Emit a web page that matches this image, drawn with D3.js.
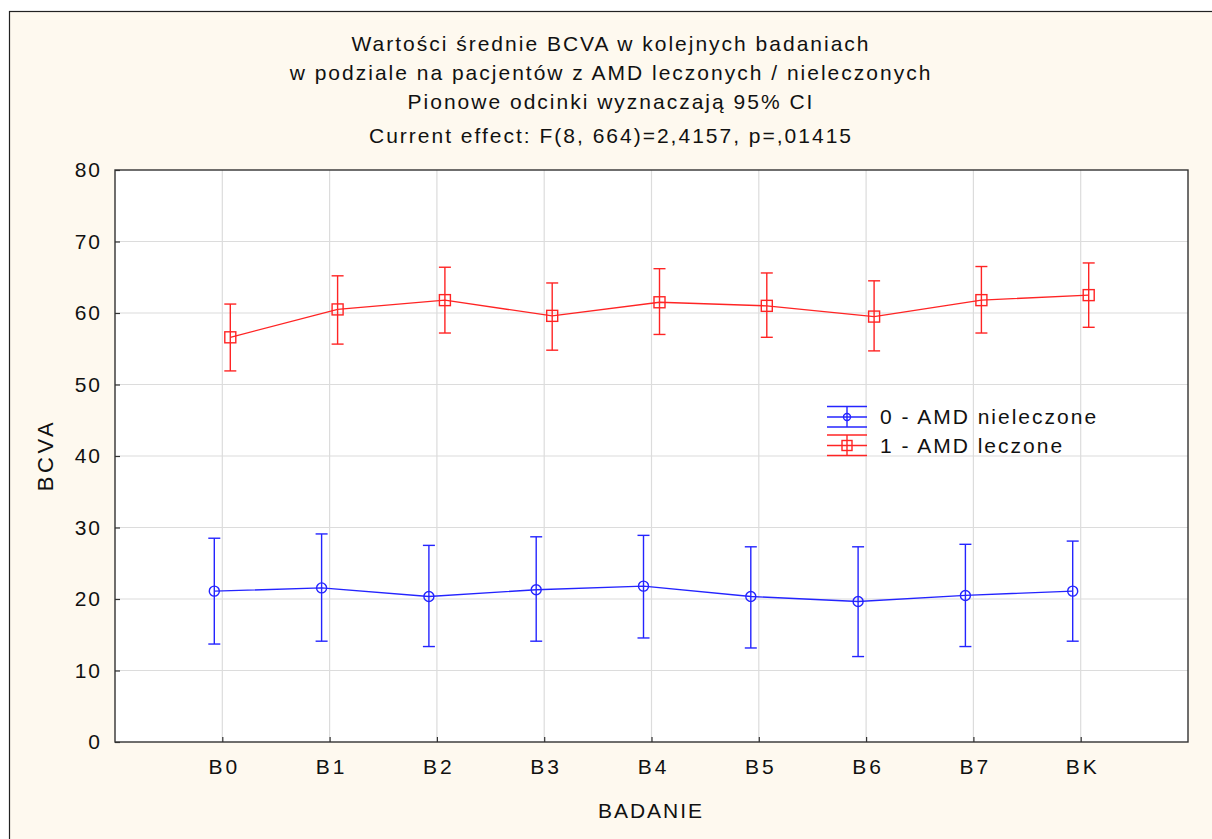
<!DOCTYPE html>
<html>
<head>
<meta charset="utf-8">
<script src="https://cdn.jsdelivr.net/npm/d3@7"></script>
<style>
  body { margin: 0; background: #ffffff; }
  svg { display: block; font-family: "Liberation Sans", Arial, sans-serif; }
</style>
</head>
<body>
<div id="chart"></div>
<script>
// data
const categories = ['B0', 'B1', 'B2', 'B3', 'B4', 'B5', 'B6', 'B7', 'BK'];

const untreatedMean  = [21.1, 21.55, 20.35, 21.3, 21.8, 20.35, 19.65, 20.5, 21.1];
const untreatedLower = [13.7, 14.1, 13.35, 14.1, 14.55, 13.15, 11.95, 13.35, 14.1];
const untreatedUpper = [28.5, 29.1, 27.5, 28.7, 28.9, 27.3, 27.3, 27.65, 28.1];

const treatedMean  = [56.6, 60.5, 61.8, 59.6, 61.5, 61.0, 59.5, 61.8, 62.5];
const treatedLower = [51.9, 55.65, 57.2, 54.8, 57.0, 56.6, 54.7, 57.2, 58.0];
const treatedUpper = [61.25, 65.2, 66.4, 64.2, 66.2, 65.6, 64.5, 66.5, 67.0];

const yTicks = [0, 10, 20, 30, 40, 50, 60, 70, 80];

const seriesNames = ['0 - AMD nieleczone', '1 - AMD leczone'];

const titleLines = [
  'Wartości średnie BCVA w kolejnych badaniach',
  'w podziale na pacjentów z AMD leczonych / nieleczonych',
  'Pionowe odcinki wyznaczają 95% CI',
  'Current effect: F(8, 664)=2,4157, p=,01415'
];

const W = 1212, H = 839;
const plot = { left: 115, top: 170, right: 1188, bottom: 742 };
const blue = '#2424ff', red = '#ff2424';
const fontSize = 21, spacing = 2;

const svg = d3.select('#chart').append('svg')
  .attr('width', W)
  .attr('height', H);

// page background + outer frame
svg.append('rect')
  .attr('x', 9.5).attr('y', 11.5)
  .attr('width', W).attr('height', H)
  .attr('fill', '#fef9ef')
  .attr('stroke', '#222').attr('stroke-width', 1.2);

// plot area
svg.append('rect')
  .attr('x', plot.left).attr('y', plot.top)
  .attr('width', plot.right - plot.left).attr('height', plot.bottom - plot.top)
  .attr('fill', '#ffffff');

// scales
const x = d3.scaleLinear().domain([0, categories.length + 1]).range([plot.left, plot.right]);
const y = d3.scaleLinear().domain([0, 80]).range([plot.bottom, plot.top]);

// grid
svg.append('g').selectAll('line.hg')
  .data(yTicks.slice(1, -1))
  .join('line')
  .attr('x1', plot.left).attr('x2', plot.right)
  .attr('y1', d => y(d)).attr('y2', d => y(d))
  .attr('stroke', '#dcdcdc').attr('stroke-width', 1.2);

svg.append('g').selectAll('line.vg')
  .data(categories)
  .join('line')
  .attr('x1', (d, i) => x(i + 1)).attr('x2', (d, i) => x(i + 1))
  .attr('y1', plot.top).attr('y2', plot.bottom)
  .attr('stroke', '#dcdcdc').attr('stroke-width', 1.2);

// axes
let yAxis = svg.append('g')
  .attr('transform', `translate(${plot.left},0)`)
  .call(d3.axisLeft(y).tickValues(yTicks).tickSize(-5).tickPadding(13));
yAxis.select('.domain').remove();
yAxis.selectAll('line').attr('stroke', '#333').attr('stroke-width', 1.2);
yAxis.selectAll('text')
  .attr('font-size', fontSize).attr('fill', '#111').attr('letter-spacing', spacing)
  .attr('font-family', '"Liberation Sans", Arial, sans-serif');

let xAxis = svg.append('g')
  .attr('transform', `translate(0,${plot.bottom})`)
  .call(d3.axisBottom(x).tickValues(d3.range(1, categories.length + 1))
    .tickFormat(i => categories[i - 1]).tickSize(-5).tickPadding(17));
xAxis.select('.domain').remove();
xAxis.selectAll('line').attr('stroke', '#333').attr('stroke-width', 1.2);
xAxis.selectAll('text')
  .attr('font-size', fontSize).attr('fill', '#111').attr('letter-spacing', 3)
  .attr('dx', 1.5)
  .attr('font-family', '"Liberation Sans", Arial, sans-serif');

// plot border
svg.append('rect')
  .attr('x', plot.left).attr('y', plot.top)
  .attr('width', plot.right - plot.left).attr('height', plot.bottom - plot.top)
  .attr('fill', 'none').attr('stroke', '#333').attr('stroke-width', 1.4);

// series
const series = [
  { name: seriesNames[0], mean: untreatedMean, lo: untreatedLower, hi: untreatedUpper, color: blue, dx: -8, marker: 'circle' },
  { name: seriesNames[1], mean: treatedMean, lo: treatedLower, hi: treatedUpper, color: red, dx: 8, marker: 'square' }
];

const capW = 6;

series.forEach(s => {
  let g = svg.append('g');
  let px = i => x(i + 1) + s.dx;

  let line = d3.line().x((d, i) => px(i)).y(d => y(d));
  g.append('path')
    .attr('d', line(s.mean))
    .attr('fill', 'none').attr('stroke', s.color).attr('stroke-width', 1.4);

  // error bars
  let eb = g.selectAll('g.eb').data(s.mean).join('g');
  eb.append('line')
    .attr('x1', (d, i) => px(i)).attr('x2', (d, i) => px(i))
    .attr('y1', (d, i) => y(s.lo[i])).attr('y2', (d, i) => y(s.hi[i]))
    .attr('stroke', s.color).attr('stroke-width', 1.4);
  eb.append('line')
    .attr('x1', (d, i) => px(i) - capW).attr('x2', (d, i) => px(i) + capW)
    .attr('y1', (d, i) => y(s.hi[i])).attr('y2', (d, i) => y(s.hi[i]))
    .attr('stroke', s.color).attr('stroke-width', 1.4);
  eb.append('line')
    .attr('x1', (d, i) => px(i) - capW).attr('x2', (d, i) => px(i) + capW)
    .attr('y1', (d, i) => y(s.lo[i])).attr('y2', (d, i) => y(s.lo[i]))
    .attr('stroke', s.color).attr('stroke-width', 1.4);

  if (s.marker === 'circle') {
    eb.append('circle')
      .attr('cx', (d, i) => px(i)).attr('cy', d => y(d)).attr('r', 5)
      .attr('fill', 'none').attr('stroke', s.color).attr('stroke-width', 1.4);
  } else {
    eb.append('rect')
      .attr('x', (d, i) => px(i) - 5.5).attr('y', d => y(d) - 5.5)
      .attr('width', 11).attr('height', 11)
      .attr('fill', 'none').attr('stroke', s.color).attr('stroke-width', 1.4);
  }
});

// legend
const legend = svg.append('g').attr('transform', 'translate(827,417)');
series.forEach((s, k) => {
  let lg = legend.append('g').attr('transform', `translate(0,${k * 28.5})`);
  [-10.5, 0, 10].forEach(dy => {
    lg.append('line').attr('x1', 0).attr('x2', 40).attr('y1', dy).attr('y2', dy)
      .attr('stroke', s.color).attr('stroke-width', 1.4);
  });
  lg.append('line').attr('x1', 20).attr('x2', 20).attr('y1', -10.5).attr('y2', 10)
    .attr('stroke', s.color).attr('stroke-width', 1.4);
  if (s.marker === 'circle') {
    lg.append('circle').attr('cx', 20).attr('cy', 0).attr('r', 3.5)
      .attr('fill', 'none').attr('stroke', s.color).attr('stroke-width', 1.4);
  } else {
    lg.append('rect').attr('x', 15).attr('y', -5).attr('width', 10).attr('height', 10)
      .attr('fill', 'none').attr('stroke', s.color).attr('stroke-width', 1.4);
  }
  lg.append('text')
    .attr('x', 53).attr('y', 0).attr('dy', '0.35em')
    .attr('font-size', fontSize).attr('fill', '#111').attr('letter-spacing', spacing)
    .text(s.name);
});

// titles
svg.append('g').selectAll('text')
  .data(titleLines)
  .join('text')
  .attr('x', 611)
  .attr('y', (d, i) => [44, 73, 102, 136][i])
  .attr('dy', '0.35em')
  .attr('text-anchor', 'middle')
  .attr('font-size', fontSize).attr('fill', '#111').attr('letter-spacing', spacing)
  .text(d => d);

// axis titles
svg.append('text')
  .attr('x', 651).attr('y', 811).attr('dy', '0.35em')
  .attr('text-anchor', 'middle')
  .attr('font-size', fontSize).attr('fill', '#111').attr('letter-spacing', spacing)
  .text('BADANIE');

svg.append('text')
  .attr('transform', 'translate(45,455) rotate(-90)')
  .attr('dy', '0.35em')
  .attr('text-anchor', 'middle')
  .attr('font-size', 22).attr('fill', '#111').attr('letter-spacing', 3.5)
  .text('BCVA');
</script>
</body>
</html>
